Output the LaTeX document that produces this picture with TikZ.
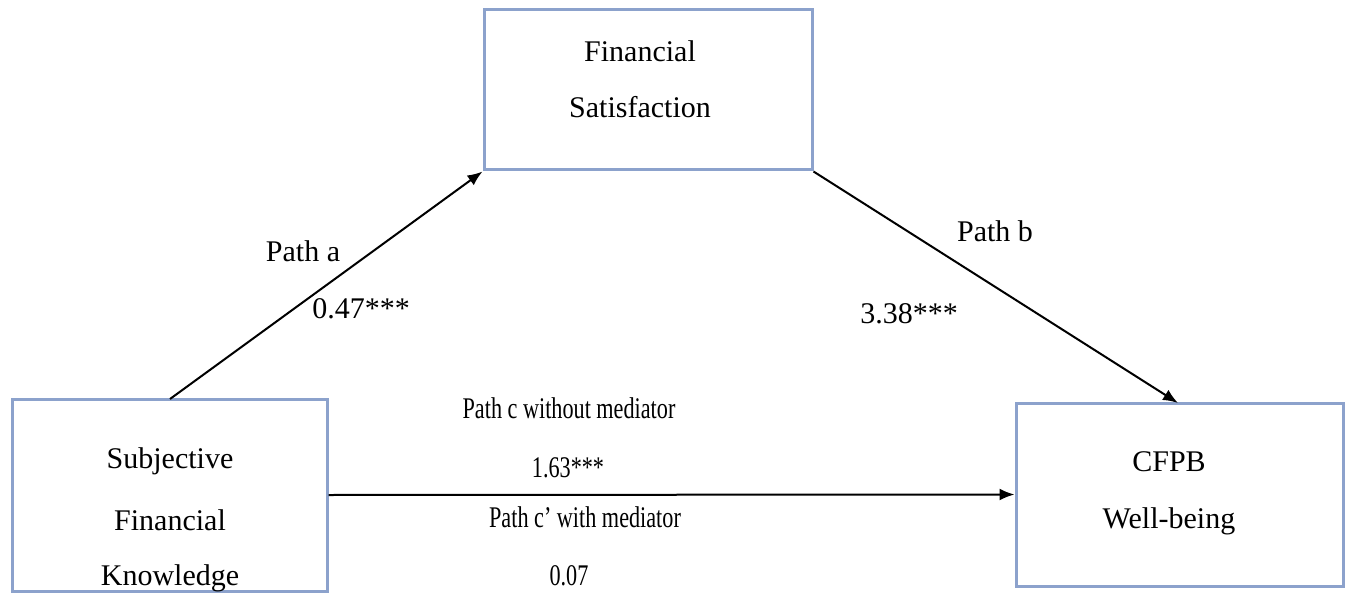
\documentclass[tikz,border=0pt]{standalone}
\usepackage{fontspec}
\setmainfont{Liberation Serif}
\usepackage{graphicx}
\usetikzlibrary{arrows.meta}
\definecolor{boxblue}{RGB}{140,162,204}
\tikzset{
  varbox/.style={draw=boxblue, line width=1.5pt, rectangle, inner sep=0pt},
  lbl/.style={inner sep=0pt, anchor=base, font=\fontsize{15pt}{18pt}\selectfont},
  conn/.style={draw=black, line width=1pt, -{Latex[length=7.5pt,width=6pt]}}
}
\newcommand{\cond}[1]{\scalebox{0.74}[1]{#1}}
\begin{document}
\begin{tikzpicture}[x=0.5pt,y=-0.5pt]
\useasboundingbox (0,0) rectangle (1348,593);
% boxes
\node[varbox, minimum width=164pt, minimum height=80pt] (fs) at (648,90) {};
\node[varbox, minimum width=157.5pt, minimum height=96pt] (sfk) at (169.5,495) {};
\node[varbox, minimum width=163.5pt, minimum height=91.5pt] (cfpb) at (1179.5,494.5) {};
% box texts
\node[lbl] (fs1) at (640,62) {Financial};
\node[lbl] (fs2) at (640,118) {Satisfaction};
\node[lbl] (sfk1) at (170,468) {Subjective};
\node[lbl] (sfk2) at (170,530) {Financial};
\node[lbl] (sfk3) at (170,585) {Knowledge};
\node[lbl] (cf1) at (1169,471) {CFPB};
\node[lbl] (cf2) at (1169,528) {Well-being};
% connectors
\coordinate (astart) at (170,399);
\coordinate (bend) at (1178,403);
\draw[conn] (astart) -- (fs.south west);
\draw[conn] (fs.south east) -- (bend);
\draw[conn] (sfk.east) -- (cfpb.west);
% path labels
\node[lbl] (pa) at (303,262) {Path a};
\node[lbl] (va) at (361,318) {0.47***};
\node[lbl] (pb) at (995,242) {Path b};
\node[lbl] (vb) at (909,323) {3.38***};
\node[lbl] (pc) at (569,418) {\cond{Path c without mediator}};
\node[lbl] (vc) at (568,477) {\cond{1.63***}};
\node[lbl] (pcp) at (585,527) {\cond{Path c’ with mediator}};
\node[lbl] (vcp) at (569,585) {\cond{0.07}};
\end{tikzpicture}
\end{document}
